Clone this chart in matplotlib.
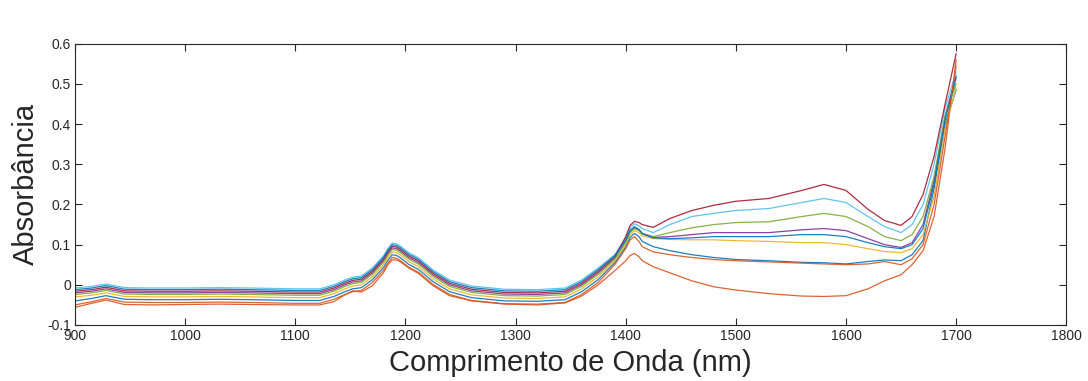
import matplotlib
matplotlib.use("Agg")
import matplotlib.pyplot as plt

plt.rcParams['font.family'] = ['Liberation Sans', 'DejaVu Sans']

# wavelength grid (nm)
wl = [900, 915, 928, 945, 970, 1000, 1030, 1060, 1100, 1122,
      1135, 1145, 1152, 1160, 1170, 1180, 1184, 1188, 1192, 1195,
      1203, 1212, 1225, 1240, 1260, 1290, 1320, 1345, 1360, 1375,
      1390, 1400, 1404, 1408, 1412, 1415, 1425, 1440, 1460, 1480,
      1500, 1530, 1560, 1580, 1600, 1620, 1635, 1650, 1660, 1670,
      1680, 1690, 1700]

# spectra
s1 = [-0.040, -0.034, -0.027, -0.036, -0.037, -0.037, -0.036, -0.037, -0.039, -0.039,
      -0.029, -0.017, -0.010, -0.007, 0.013, 0.043, 0.061, 0.075, 0.073, 0.068,
      0.051, 0.038, 0.008, -0.017, -0.032, -0.040, -0.041, -0.037, -0.017, 0.013,
      0.055, 0.095, 0.118, 0.128, 0.120, 0.108, 0.095, 0.085, 0.075, 0.068,
      0.063, 0.060, 0.056, 0.055, 0.052, 0.058, 0.062, 0.060, 0.075, 0.110,
      0.240, 0.400, 0.485]
s2 = [-0.056, -0.046, -0.038, -0.049, -0.050, -0.049, -0.048, -0.049, -0.050, -0.050,
      -0.042, -0.025, -0.015, -0.018, -0.002, 0.030, 0.050, 0.062, 0.062, 0.058,
      0.042, 0.028, -0.002, -0.027, -0.040, -0.048, -0.050, -0.045, -0.028, 0.000,
      0.035, 0.060, 0.073, 0.078, 0.070, 0.060, 0.045, 0.030, 0.010, -0.005,
      -0.013, -0.022, -0.028, -0.029, -0.027, -0.010, 0.010, 0.025, 0.050, 0.085,
      0.170, 0.340, 0.560]
s3 = [-0.030, -0.026, -0.020, -0.029, -0.030, -0.030, -0.029, -0.030, -0.032, -0.032,
      -0.022, -0.010, -0.003, 0.000, 0.020, 0.050, 0.068, 0.082, 0.080, 0.075,
      0.058, 0.045, 0.015, -0.010, -0.025, -0.033, -0.034, -0.030, -0.010, 0.020,
      0.060, 0.100, 0.125, 0.135, 0.130, 0.122, 0.115, 0.113, 0.112, 0.112,
      0.110, 0.108, 0.105, 0.105, 0.100, 0.090, 0.083, 0.080, 0.090, 0.125,
      0.220, 0.390, 0.490]
s4 = [-0.020, -0.016, -0.010, -0.019, -0.020, -0.020, -0.019, -0.020, -0.022, -0.022,
      -0.012, 0.000, 0.007, 0.010, 0.030, 0.060, 0.078, 0.092, 0.090, 0.085,
      0.068, 0.055, 0.025, 0.000, -0.015, -0.023, -0.024, -0.020, 0.000, 0.030,
      0.066, 0.108, 0.133, 0.142, 0.137, 0.127, 0.118, 0.120, 0.125, 0.130,
      0.130, 0.130, 0.137, 0.140, 0.135, 0.115, 0.100, 0.093, 0.105, 0.150,
      0.260, 0.420, 0.520]
s5 = [-0.024, -0.020, -0.014, -0.023, -0.024, -0.024, -0.023, -0.024, -0.026, -0.026,
      -0.016, -0.004, 0.003, 0.006, 0.026, 0.056, 0.074, 0.088, 0.086, 0.081,
      0.064, 0.051, 0.021, -0.004, -0.019, -0.027, -0.028, -0.024, -0.004, 0.026,
      0.064, 0.106, 0.131, 0.140, 0.135, 0.128, 0.120, 0.130, 0.142, 0.150,
      0.155, 0.157, 0.170, 0.178, 0.170, 0.145, 0.120, 0.110, 0.125, 0.170,
      0.270, 0.420, 0.500]
s6 = [-0.008, -0.004, 0.002, -0.007, -0.008, -0.008, -0.007, -0.008, -0.010, -0.010,
      0.000, 0.012, 0.019, 0.022, 0.042, 0.072, 0.090, 0.104, 0.102, 0.097,
      0.080, 0.067, 0.037, 0.012, -0.003, -0.011, -0.012, -0.008, 0.012, 0.042,
      0.075, 0.115, 0.142, 0.152, 0.147, 0.140, 0.130, 0.150, 0.170, 0.178,
      0.185, 0.190, 0.205, 0.215, 0.205, 0.170, 0.145, 0.130, 0.150, 0.200,
      0.300, 0.440, 0.530]
s7 = [-0.016, -0.012, -0.006, -0.015, -0.016, -0.016, -0.015, -0.016, -0.018, -0.018,
      -0.008, 0.004, 0.011, 0.014, 0.034, 0.064, 0.082, 0.096, 0.094, 0.089,
      0.072, 0.059, 0.029, 0.004, -0.011, -0.019, -0.020, -0.016, 0.004, 0.034,
      0.070, 0.120, 0.148, 0.158, 0.155, 0.150, 0.143, 0.165, 0.185, 0.198,
      0.208, 0.215, 0.235, 0.250, 0.235, 0.188, 0.160, 0.148, 0.170, 0.225,
      0.320, 0.450, 0.575]
s8 = [-0.012, -0.008, -0.002, -0.011, -0.012, -0.012, -0.011, -0.012, -0.014, -0.014,
      -0.004, 0.008, 0.015, 0.018, 0.038, 0.068, 0.086, 0.100, 0.098, 0.093,
      0.076, 0.063, 0.033, 0.008, -0.007, -0.015, -0.016, -0.012, 0.008, 0.038,
      0.072, 0.112, 0.136, 0.145, 0.138, 0.128, 0.117, 0.115, 0.117, 0.120,
      0.120, 0.120, 0.125, 0.125, 0.120, 0.105, 0.095, 0.090, 0.100, 0.140,
      0.250, 0.410, 0.515]
s9 = [-0.050, -0.042, -0.034, -0.043, -0.044, -0.044, -0.043, -0.044, -0.046, -0.046,
      -0.036, -0.024, -0.017, -0.014, 0.006, 0.036, 0.054, 0.068, 0.066, 0.061,
      0.044, 0.031, 0.001, -0.024, -0.039, -0.047, -0.048, -0.044, -0.024, 0.006,
      0.050, 0.090, 0.112, 0.120, 0.108, 0.095, 0.082, 0.075, 0.068, 0.063,
      0.060, 0.057, 0.054, 0.052, 0.050, 0.052, 0.058, 0.050, 0.065, 0.100,
      0.200, 0.370, 0.545]

spectra = [s1, s2, s3, s4, s5, s6, s7, s8, s9]

# matlab default line colours
colors = ['#0072BD', '#D95319', '#EDB120', '#7E2F8E', '#77AC30',
          '#4DBEEE', '#A2142F', '#0072BD', '#D95319']

xticks = [900, 1000, 1100, 1200, 1300, 1400, 1500, 1600, 1700, 1800]
yticks = [-0.1, 0, 0.1, 0.2, 0.3, 0.4, 0.5, 0.6]
ytick_labels = ['-0.1', '0', '0.1', '0.2', '0.3', '0.4', '0.5', '0.6']

fig = plt.figure(figsize=(10.88, 3.81), dpi=100)
ax = fig.add_axes([0.069, 0.147, 0.911, 0.738])

for s, c in zip(spectra, colors):
    ax.plot(wl, s, color=c, lw=0.9, alpha=0.9)

ax.set_xlim(900, 1800)
ax.set_ylim(-0.1, 0.6)
ax.set_xticks(xticks)
ax.set_yticks(yticks)
ax.set_yticklabels(ytick_labels)
ax.tick_params(direction='in', top=True, right=True, length=5, width=0.8,
               labelsize=10, colors='#262626', pad=3)
for sp in ax.spines.values():
    sp.set_color('#262626')
    sp.set_linewidth(0.8)

ax.set_xlabel('Comprimento de Onda (nm)', fontsize=21, color='#262626', labelpad=4)
ax.set_ylabel('Absorbância', fontsize=21, color='#262626', labelpad=5)

fig.savefig('out.png', dpi=100)
